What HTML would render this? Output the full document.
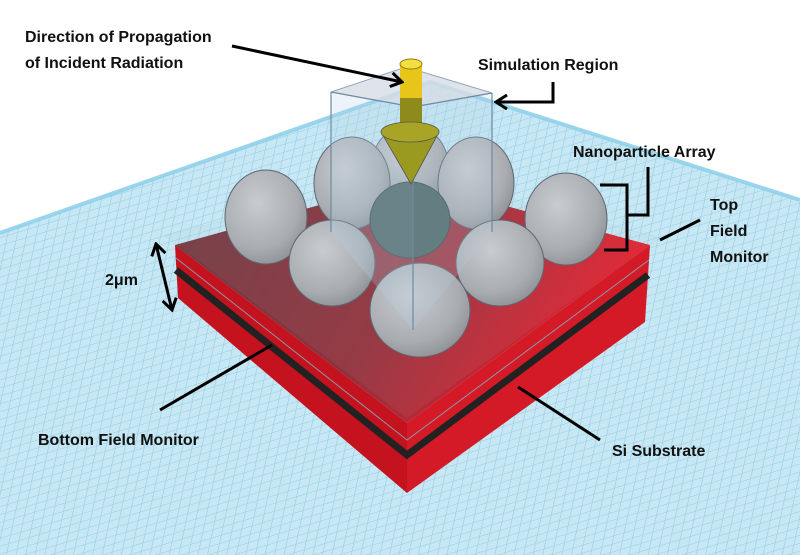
<!DOCTYPE html>
<html><head><style>
body{margin:0;background:#fff;}
svg{display:block;}
text{font-family:"Liberation Sans",sans-serif;font-weight:bold;font-size:16px;fill:#111;}
</style></head><body>
<svg width="800" height="555" viewBox="0 0 800 555" xmlns="http://www.w3.org/2000/svg">
<defs>
<pattern id="g" width="9" height="9" patternUnits="userSpaceOnUse" patternTransform="skewX(-30) rotate(-20)">
<rect width="9" height="9" fill="#c6e7f3"/>
<path d="M0 0H9M0 0V9" stroke="#8ecbe3" stroke-width="1"/>
</pattern>
<radialGradient id="s" cx="0.4" cy="0.35" r="0.7">
<stop offset="0" stop-color="#c8cbcf"/><stop offset="0.7" stop-color="#a9adb1"/><stop offset="1" stop-color="#8d9196"/>
</radialGradient>
<linearGradient id="top" x1="0" y1="0" x2="1" y2="0.3">
<stop offset="0" stop-color="#6e3a40"/><stop offset="0.55" stop-color="#93303a"/><stop offset="1" stop-color="#e81e2c"/>
</linearGradient>
<marker id="a" markerUnits="userSpaceOnUse" markerWidth="14" markerHeight="16" refX="12" refY="8" orient="auto"><path d="M1 1L12 8L1 15" fill="none" stroke="#000" stroke-width="3"/></marker>
<marker id="b" markerUnits="userSpaceOnUse" markerWidth="14" markerHeight="16" refX="2" refY="8" orient="auto"><path d="M13 1L2 8L13 15" fill="none" stroke="#000" stroke-width="3"/></marker>
</defs>
<polygon points="0,233 430,82 800,200 800,555 0,555" fill="url(#g)"/>
<polyline points="0,233 430,82 800,200" fill="none" stroke="#8fd0ea" stroke-width="4" opacity="0.9"/>
<polygon points="175,245 407,423 407,493 178,298" fill="#c4121f"/>
<polygon points="407,423 650,245 645,322 407,493" fill="#d41a26"/>
<polyline points="176,270 407,455 648,275" fill="none" stroke="#222" stroke-width="7"/>
<polyline points="176,258 407,440 649,260" fill="none" stroke="#8a98a8" stroke-width="1"/>
<polygon points="175,245 410,180 650,245 407,423" fill="url(#top)"/>
<polygon points="165,236 410,172 660,238 407,418" fill="#aabacc" opacity="0.08" stroke="#6d8296" stroke-width="1"/>
<polygon points="331,92 406,67 492,93 413,107" fill="#d8dde6" opacity="0.8" stroke="#7d8fa3"/>
<ellipse cx="410" cy="165" rx="38" ry="40" fill="url(#s)" stroke="#5e6670"/>
<ellipse cx="352" cy="183" rx="38" ry="46" fill="url(#s)" stroke="#5e6670"/>
<ellipse cx="476" cy="183" rx="38" ry="46" fill="url(#s)" stroke="#5e6670"/>
<ellipse cx="266" cy="217" rx="41" ry="47" fill="url(#s)" stroke="#5e6670"/>
<ellipse cx="566" cy="219" rx="41" ry="46" fill="url(#s)" stroke="#5e6670"/>
<ellipse cx="410" cy="220" rx="40" ry="38" fill="#4f6868" stroke="#3e5050"/>
<ellipse cx="332" cy="263" rx="43" ry="43" fill="url(#s)" stroke="#5e6670"/>
<ellipse cx="500" cy="263" rx="44" ry="43" fill="url(#s)" stroke="#5e6670"/>
<ellipse cx="420" cy="310" rx="50" ry="47" fill="url(#s)" stroke="#5e6670"/>
<polygon points="331,92 413,107 413,330 331,232" fill="#b8d4e8" opacity="0.25"/>
<polygon points="413,107 492,93 492,232 413,330" fill="#b8d4e8" opacity="0.2"/>
<path d="M331,92V232M413,107V330M492,93V232M331,92L413,107L492,93" stroke="#6f8aa2" stroke-width="1.2" fill="none"/>
<rect x="400" y="64" width="22" height="35" fill="#e8c51a"/>
<rect x="400" y="98" width="22" height="30" fill="#8e8a1c"/>
<ellipse cx="411" cy="64" rx="11" ry="5" fill="#f5de40" stroke="#8c7a10"/>
<polygon points="381,132 439,132 411,184" fill="#9a9a20" stroke="#555" stroke-width="0.8"/>
<ellipse cx="410" cy="132" rx="29" ry="10" fill="#a8a426" stroke="#555" stroke-width="0.8"/>
<g stroke="#000" stroke-width="3" fill="none">
<line x1="232" y1="46" x2="402" y2="82" marker-end="url(#a)"/>
<polyline points="553,82 553,102 496,102" marker-end="url(#a)"/>
<polyline points="648,167 648,215 628,215"/>
<polyline points="600,185 627,185 627,250 604,250"/>
<line x1="700" y1="220" x2="660" y2="240"/>
<line x1="156" y1="244" x2="172" y2="310" marker-start="url(#b)" marker-end="url(#a)"/>
<line x1="160" y1="410" x2="272" y2="345"/>
<line x1="518" y1="387" x2="600" y2="440"/>
</g>
<text x="25" y="42">Direction of Propagation</text>
<text x="25" y="68">of Incident Radiation</text>
<text x="478" y="70">Simulation Region</text>
<text x="573" y="157">Nanoparticle Array</text>
<text x="710" y="210">Top</text>
<text x="710" y="236">Field</text>
<text x="710" y="262">Monitor</text>
<text x="105" y="285">2μm</text>
<text x="38" y="445">Bottom Field Monitor</text>
<text x="612" y="456">Si Substrate</text>
</svg>
</body></html>
